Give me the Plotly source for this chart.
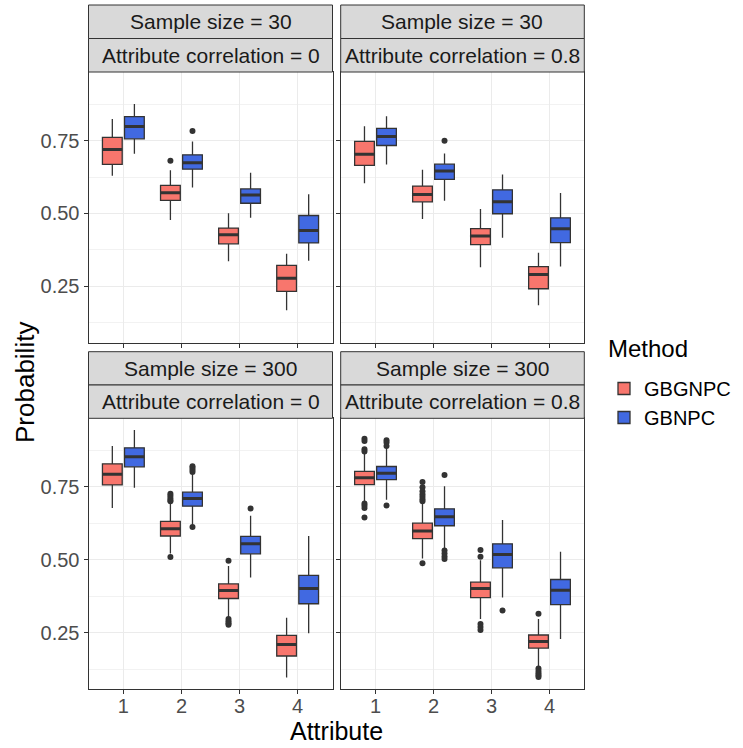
import plotly.graph_objects as go

# ---------------- data ----------------
attributes = [1, 2, 3, 4]
methods = ["GBGNPC", "GBNPC"]
method_colors = {"GBGNPC": "#F8766D", "GBNPC": "#4169E1"}

panel_sample = ["30", "30", "300", "300"]
panel_corr = ["0", "0.8", "0", "0.8"]

# Panel 1: n=30, r=0
p1_red_low = [0.629, 0.478, 0.336, 0.168]
p1_red_q1 = [0.668, 0.545, 0.396, 0.233]
p1_red_med = [0.719, 0.571, 0.427, 0.278]
p1_red_q3 = [0.761, 0.596, 0.450, 0.322]
p1_red_up = [0.824, 0.648, 0.501, 0.362]
p1_red_out = [[], [0.681], [], []]
p1_blue_low = [0.705, 0.589, 0.485, 0.338]
p1_blue_q1 = [0.756, 0.652, 0.535, 0.399]
p1_blue_med = [0.798, 0.674, 0.563, 0.442]
p1_blue_q3 = [0.832, 0.701, 0.584, 0.493]
p1_blue_up = [0.875, 0.747, 0.640, 0.566]
p1_blue_out = [[], [0.783], [], []]

# Panel 2: n=30, r=0.8
p2_red_low = [0.604, 0.481, 0.316, 0.185]
p2_red_q1 = [0.665, 0.540, 0.393, 0.242]
p2_red_med = [0.703, 0.565, 0.423, 0.291]
p2_red_q3 = [0.747, 0.594, 0.448, 0.318]
p2_red_up = [0.799, 0.650, 0.515, 0.365]
p2_red_out = [[], [], [], []]
p2_blue_low = [0.668, 0.544, 0.417, 0.318]
p2_blue_q1 = [0.733, 0.617, 0.499, 0.400]
p2_blue_med = [0.764, 0.646, 0.540, 0.448]
p2_blue_q3 = [0.792, 0.669, 0.581, 0.485]
p2_blue_up = [0.833, 0.706, 0.634, 0.570]
p2_blue_out = [[], [0.749], [], []]

# Panel 3: n=300, r=0
p3_red_low = [0.678, 0.522, 0.304, 0.097]
p3_red_q1 = [0.757, 0.582, 0.368, 0.171]
p3_red_med = [0.793, 0.607, 0.395, 0.210]
p3_red_q3 = [0.829, 0.632, 0.418, 0.242]
p3_red_up = [0.890, 0.695, 0.479, 0.302]
p3_red_out = [[], [0.727, 0.720, 0.712, 0.705, 0.701, 0.510],
              [0.497, 0.298, 0.290, 0.283, 0.278], []]
p3_blue_low = [0.747, 0.620, 0.440, 0.249]
p3_blue_q1 = [0.819, 0.684, 0.521, 0.350]
p3_blue_med = [0.853, 0.710, 0.555, 0.402]
p3_blue_q3 = [0.884, 0.732, 0.581, 0.447]
p3_blue_up = [0.945, 0.793, 0.651, 0.582]
p3_blue_out = [[], [0.821, 0.815, 0.808, 0.801, 0.613], [0.676], []]

# Panel 4: n=300, r=0.8
p4_red_low = [0.695, 0.505, 0.298, 0.132]
p4_red_q1 = [0.758, 0.573, 0.371, 0.198]
p4_red_med = [0.781, 0.599, 0.402, 0.221]
p4_red_q3 = [0.803, 0.626, 0.424, 0.243]
p4_red_up = [0.867, 0.695, 0.499, 0.298]
p4_red_out = [[0.915, 0.907, 0.879, 0.871, 0.693, 0.686, 0.678, 0.645],
              [0.767, 0.749, 0.735, 0.725, 0.716, 0.708, 0.701, 0.489],
              [0.534, 0.511, 0.281, 0.270, 0.260],
              [0.316, 0.128, 0.120, 0.112, 0.105, 0.099]]
p4_blue_low = [0.706, 0.540, 0.371, 0.229]
p4_blue_q1 = [0.775, 0.617, 0.473, 0.347]
p4_blue_med = [0.797, 0.648, 0.519, 0.396]
p4_blue_q3 = [0.820, 0.675, 0.555, 0.433]
p4_blue_up = [0.884, 0.752, 0.637, 0.528]
p4_blue_out = [[0.910, 0.902, 0.890, 0.686], [0.791, 0.532, 0.522, 0.512, 0.503], [0.327], []]

y_ticks = [0.25, 0.50, 0.75]
y_tick_text = ["0.25", "0.50", "0.75"]
y_minor = [0.125, 0.375, 0.625, 0.875]

panels = [
    {"GBGNPC": (p1_red_low, p1_red_q1, p1_red_med, p1_red_q3, p1_red_up, p1_red_out),
     "GBNPC": (p1_blue_low, p1_blue_q1, p1_blue_med, p1_blue_q3, p1_blue_up, p1_blue_out)},
    {"GBGNPC": (p2_red_low, p2_red_q1, p2_red_med, p2_red_q3, p2_red_up, p2_red_out),
     "GBNPC": (p2_blue_low, p2_blue_q1, p2_blue_med, p2_blue_q3, p2_blue_up, p2_blue_out)},
    {"GBGNPC": (p3_red_low, p3_red_q1, p3_red_med, p3_red_q3, p3_red_up, p3_red_out),
     "GBNPC": (p3_blue_low, p3_blue_q1, p3_blue_med, p3_blue_q3, p3_blue_up, p3_blue_out)},
    {"GBGNPC": (p4_red_low, p4_red_q1, p4_red_med, p4_red_q3, p4_red_up, p4_red_out),
     "GBNPC": (p4_blue_low, p4_blue_q1, p4_blue_med, p4_blue_q3, p4_blue_up, p4_blue_out)},
]

# ---------------- layout geometry ----------------
W, H = 743, 748
x_domains = [(88.5 / W, 332.5 / W), (340.7 / W, 584.3 / W)]
y_domains = [(1 - 342.7 / H, 1 - 72 / H), (1 - 689.3 / H, 1 - 418.3 / H)]
strip_px = [(5, 38.5, 72), (351.7, 385, 418.3)]

DODGE = 0.38          # distance between the two box centres
BOX_W = 0.34          # box width in data units
offsets = {"GBGNPC": -DODGE / 2, "GBNPC": DODGE / 2}
half_w = BOX_W / 2

EDGE = "#333333"
fig = go.Figure()

for i, pdata in enumerate(panels):
    ax = "" if i == 0 else str(i + 1)
    xref, yref = "x" + ax, "y" + ax
    for m in methods:
        low, q1, med, q3, up, outs = pdata[m]
        xs = [a + offsets[m] for a in attributes]
        fig.add_trace(go.Box(
            x=xs, q1=q1, median=med, q3=q3, lowerfence=low, upperfence=up,
            width=BOX_W, name=m, legendgroup=m, showlegend=(i == 0),
            fillcolor=method_colors[m], line=dict(color=EDGE, width=1.3),
            whiskerwidth=0, boxpoints=False, xaxis=xref, yaxis=yref,
        ))
        # thicker median line (ggplot style)
        mx, my = [], []
        for c, v in zip(xs, med):
            mx += [c - half_w, c + half_w, None]
            my += [v, v, None]
        fig.add_trace(go.Scatter(x=mx, y=my, mode="lines", line=dict(color=EDGE, width=3),
                                 showlegend=False, hoverinfo="skip", xaxis=xref, yaxis=yref))
        # outliers
        ox, oy = [], []
        for c, vals in zip(xs, outs):
            for v in vals:
                ox.append(c)
                oy.append(v)
        if ox:
            fig.add_trace(go.Scatter(x=ox, y=oy, mode="markers",
                                     marker=dict(color=EDGE, size=6),
                                     showlegend=False, hoverinfo="skip", xaxis=xref, yaxis=yref))

layout = dict(
    width=W, height=H, margin=dict(l=0, r=0, t=0, b=0),
    paper_bgcolor="white", plot_bgcolor="white",
    boxmode="overlay",
    font=dict(family="Liberation Sans, Arial, sans-serif", color="#4D4D4D"),
    legend=dict(
        font=dict(size=20, color="black"),
        x=604 / W, xanchor="left", y=1 - 369 / H, yanchor="top",
        bgcolor="rgba(0,0,0,0)", tracegroupgap=0,
    ),
    showlegend=True,
)

shapes, annotations = [], []
for i in range(4):
    row, col = divmod(i, 2)
    ax = "" if i == 0 else str(i + 1)
    layout["xaxis" + ax] = dict(
        domain=x_domains[col], anchor="y" + ax, range=[0.4, 4.6],
        tickvals=attributes, ticktext=[str(a) for a in attributes],
        showticklabels=(row == 1), ticks="outside", ticklen=4, tickcolor=EDGE,
        ticklabelstandoff=-5,
        tickfont=dict(size=20, color="#4D4D4D"),
        showgrid=True, gridcolor="#EBEBEB", gridwidth=1.1, zeroline=False,
        showline=True, linecolor=EDGE, linewidth=1, mirror=True,
    )
    layout["yaxis" + ax] = dict(
        domain=y_domains[row], anchor="x" + ax, range=[0.057, 0.985],
        tickvals=y_ticks, ticktext=y_tick_text,
        showticklabels=(col == 0), ticks="outside", ticklen=4, tickcolor=EDGE,
        tickfont=dict(size=20, color="#4D4D4D"),
        showgrid=True, gridcolor="#EBEBEB", gridwidth=1.1, zeroline=False,
        showline=True, linecolor=EDGE, linewidth=1, mirror=True,
        minor=dict(tickvals=y_minor, showgrid=True, gridcolor="#F2F2F2", gridwidth=0.6, ticks=""),
    )
    x0, x1 = x_domains[col]
    top, mid, bot = strip_px[row]
    for (a, b, txt) in [(top, mid, "Sample size = " + panel_sample[i]),
                        (mid, bot, "Attribute correlation = " + panel_corr[i])]:
        shapes.append(dict(type="rect", xref="paper", yref="paper",
                           x0=x0, x1=x1, y0=1 - b / H, y1=1 - a / H,
                           fillcolor="#D9D9D9", line=dict(color=EDGE, width=1), layer="above"))
        annotations.append(dict(text=txt, xref="paper", yref="paper",
                                x=(x0 + x1) / 2, y=1 - (a + b) / 2 / H,
                                xanchor="center", yanchor="middle", showarrow=False,
                                font=dict(size=21, color="#1A1A1A")))

annotations.append(dict(text="Probability", xref="paper", yref="paper",
                        x=25 / W, y=1 - 383 / H, textangle=-90, showarrow=False,
                        xanchor="center", yanchor="middle", font=dict(size=26, color="black")))
annotations.append(dict(text="Attribute", xref="paper", yref="paper",
                        x=336 / W, y=1 - 731 / H, showarrow=False,
                        xanchor="center", yanchor="middle", font=dict(size=25, color="black")))
annotations.append(dict(text="Method", xref="paper", yref="paper",
                        x=606 / W, y=1 - 348 / H, showarrow=False,
                        xanchor="left", yanchor="middle", font=dict(size=24, color="black")))

layout["shapes"] = shapes
layout["annotations"] = annotations
fig.update_layout(**layout)

fig.write_html("out.html")
